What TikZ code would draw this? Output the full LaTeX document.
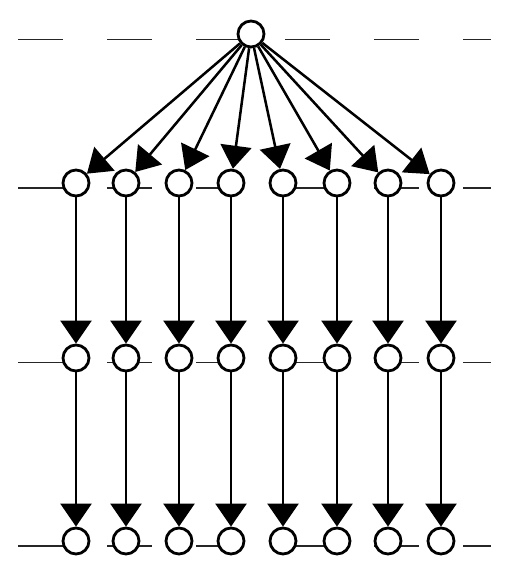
\documentclass[tikz,border=0pt]{standalone}
\usetikzlibrary{arrows.meta}
\begin{document}
\begin{tikzpicture}[x=1pt,y=-1pt,
  vtx/.style={circle,draw,fill=white,line width=2.8pt,minimum size=26pt,inner sep=0pt},
  conn/.style={line width=2.5pt,-{Triangle[length=23pt,width=31pt]}},
  level/.style={line width=1.2pt,black!85,dash pattern=on 44.5pt off 44.5pt}]
\useasboundingbox (0,0) rectangle (514,572);
% level lines
\draw[level] (18,39.5) -- (491,39.5);
\draw[level] (18,188) -- (491,188);
\draw[level] (18,362.5) -- (491,362.5);
\draw[level] (18,546) -- (491,546);
% nodes
\node[vtx] (t) at (251,34) {};
\foreach \i/\x in {1/76,2/126,3/179,4/231,5/283,6/337,7/388,8/441}{
  \node[vtx] (a\i) at (\x,183) {};
  \node[vtx] (b\i) at (\x,358) {};
  \node[vtx] (c\i) at (\x,541) {};
}
% connectors
\foreach \i in {1,...,8}{
  \draw[conn] (t) -- (a\i);
  \draw[conn] (a\i) -- (b\i);
  \draw[conn] (b\i) -- (c\i);
}
\end{tikzpicture}
\end{document}
